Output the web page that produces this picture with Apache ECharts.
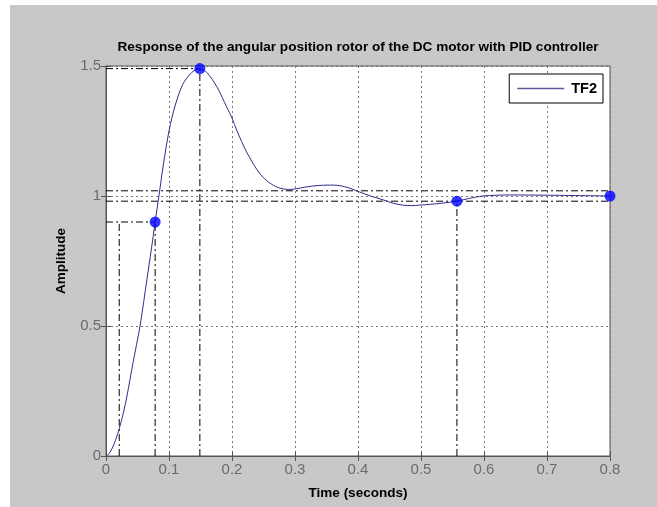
<!DOCTYPE html>
<html>
<head>
<meta charset="utf-8">
<script src="https://cdn.jsdelivr.net/npm/echarts@6/dist/echarts.min.js"></script>
<style>
  html, body { margin: 0; padding: 0; }
  #chart { width: 657px; height: 507px; }
</style>
</head>
<body>
<div id="chart"></div>
<script>
// step response of TF2
const timeS = [0, 0.005, 0.01, 0.015, 0.021, 0.027, 0.033, 0.043, 0.054, 0.065, 0.072, 0.078, 0.084, 0.091, 0.1,
  0.11, 0.122, 0.136, 0.148, 0.16, 0.176, 0.192, 0.2, 0.208,
  0.223, 0.24, 0.25, 0.263, 0.276, 0.29, 0.3, 0.318, 0.335,
  0.355, 0.371, 0.387, 0.403, 0.42, 0.44, 0.456, 0.471, 0.485, 0.498, 0.515, 0.535, 0.557, 0.575, 0.598, 0.62,
  0.64, 0.7, 0.8];
const amplitude = [0, 0.01, 0.03, 0.06, 0.105, 0.16, 0.227, 0.36, 0.5, 0.68, 0.795, 0.9, 1.0, 1.12, 1.25,
  1.35, 1.43, 1.475, 1.49, 1.475, 1.42, 1.34, 1.30, 1.25,
  1.17, 1.10, 1.07, 1.045, 1.03, 1.025, 1.027, 1.035, 1.04,
  1.042, 1.04, 1.03, 1.015, 1.0, 0.985, 0.972, 0.965, 0.963, 0.965, 0.968, 0.973, 0.98, 0.99, 1.0, 1.003,
  1.004, 1.003, 1.0];

// characteristic points: rise end, peak, settling, steady state
const charT = [0.078, 0.149, 0.557, 0.8];
const charA = [0.9, 1.49, 0.98, 1.0];
const riseStartT = 0.021;
const settleBand = [0.98, 1.02];

const xTicks = [0, 0.1, 0.2, 0.3, 0.4, 0.5, 0.6, 0.7, 0.8];
const yTicks = [0, 0.5, 1, 1.5];

const FONT = '"Liberation Sans", Arial, sans-serif';
const myChart = echarts.init(document.getElementById('chart'));

// dash-dot guide segments
let segs = [
  [[riseStartT, 0], [riseStartT, charA[0]]],
  [[0, charA[0]], [charT[0], charA[0]]],
  [[charT[0], 0], [charT[0], charA[0]]],
  [[0, charA[1]], [charT[1], charA[1]]],
  [[charT[1], 0], [charT[1], charA[1]]],
  [[charT[2], 0], [charT[2], charA[2]]],
  [[0, settleBand[0]], [xTicks[xTicks.length - 1], settleBand[0]]],
  [[0, settleBand[1]], [xTicks[xTicks.length - 1], settleBand[1]]]
];
let guideSeries = segs.map((s, i) => ({
  name: 'guide' + i,
  type: 'line',
  data: s,
  symbol: 'none',
  silent: true,
  z: 1,
  lineStyle: { color: '#000', width: 1, type: [7, 3, 2, 3] }
}));

const option = {
  backgroundColor: '#c8c8c8',
  animation: false,
  graphic: [
    { type: 'rect', left: 0, top: 0, shape: { width: 10, height: 507 }, style: { fill: '#fff' } },
    { type: 'rect', left: 0, top: 0, shape: { width: 657, height: 5 }, style: { fill: '#fff' } }
  ],
  title: {
    text: 'Response of the angular position rotor of the DC motor with PID controller',
    left: 358,
    top: 40,
    textAlign: 'center',
    padding: 0,
    textStyle: { fontFamily: FONT, fontSize: 13.6, fontWeight: 'bold', color: '#000' }
  },
  legend: {
    data: [{ name: 'TF2', icon: 'rect' }],
    right: 54,
    top: 74,
    padding: [7, 6, 7, 8],
    itemWidth: 47,
    itemHeight: 1.5,
    itemGap: 5,
    itemStyle: { color: '#5a5a9a' },
    borderColor: '#000',
    borderWidth: 1,
    backgroundColor: '#fff',
    textStyle: { fontFamily: FONT, fontSize: 14.5, fontWeight: 'bold', color: '#000', padding: [0, 0, 0, 2], lineHeight: 15 }
  },
  grid: {
    left: 106, right: 47, top: 66, bottom: 51,
    show: true,
    backgroundColor: '#fff',
    borderColor: '#555',
    borderWidth: 1
  },
  xAxis: [{
    type: 'value',
    min: xTicks[0], max: xTicks[xTicks.length - 1], interval: 0.1,
    name: 'Time (seconds)',
    nameLocation: 'middle',
    nameGap: 30,
    nameTextStyle: { fontFamily: FONT, fontSize: 13.5, fontWeight: 'bold', color: '#000' },
    axisLine: { show: true, lineStyle: { color: '#555' } },
    axisTick: { show: true, inside: true, length: 5, lineStyle: { color: '#555' } },
    axisLabel: { fontFamily: FONT, fontSize: 15, color: '#6b6b6b', margin: 6,
      formatter: v => xTicks.includes(+v.toFixed(1)) ? String(+v.toFixed(1)) : '' },
    splitLine: { show: true, lineStyle: { color: '#777', width: 1, type: [2, 3] } }
  }, {
    type: 'value', position: 'top',
    min: xTicks[0], max: xTicks[xTicks.length - 1], interval: 0.1,
    axisLine: { show: false },
    axisTick: { show: true, inside: true, length: 5, lineStyle: { color: '#555' } },
    axisLabel: { show: false },
    splitLine: { show: false }
  }],
  yAxis: [{
    type: 'value',
    min: yTicks[0], max: yTicks[yTicks.length - 1], interval: 0.5,
    name: 'Amplitude',
    nameLocation: 'middle',
    nameGap: 38,
    nameTextStyle: { fontFamily: FONT, fontSize: 13.5, fontWeight: 'bold', color: '#000' },
    axisLine: { show: true, lineStyle: { color: '#555' } },
    axisTick: { show: true, inside: true, length: 5, lineStyle: { color: '#555' } },
    axisLabel: { fontFamily: FONT, fontSize: 15, color: '#6b6b6b', margin: 5 },
    splitLine: { show: true, lineStyle: { color: '#777', width: 1, type: [2, 3] } }
  }, {
    type: 'value', position: 'right',
    min: yTicks[0], max: yTicks[yTicks.length - 1], interval: 0.5,
    axisLine: { show: false },
    axisTick: { show: true, inside: true, length: 5, lineStyle: { color: '#555' } },
    axisLabel: { show: false },
    splitLine: { show: false }
  }],
  series: guideSeries.concat([{
    name: 'TF2',
    type: 'line',
    data: timeS.map((t, i) => [t, amplitude[i]]),
    symbol: 'none',
    smooth: 0.3,
    z: 3,
    color: '#2e2e8c',
    lineStyle: { color: '#2e2e8c', width: 1 }
  }, {
    name: 'chars',
    type: 'scatter',
    data: charT.map((t, i) => [t, charA[i]]),
    symbolSize: 11,
    z: 4,
    itemStyle: { color: '#0000ff' }
  }])
};
myChart.setOption(option);
</script>
</body>
</html>
